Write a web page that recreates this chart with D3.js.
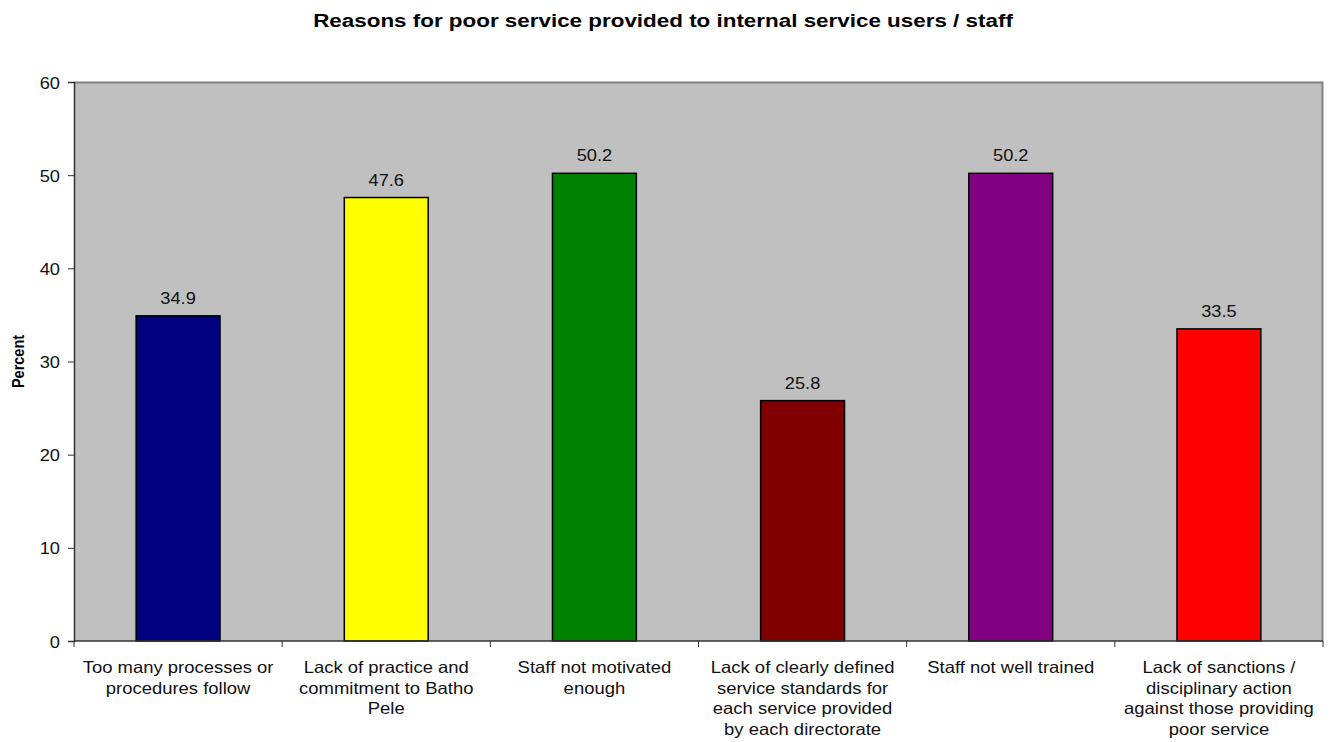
<!DOCTYPE html>
<html>
<head>
<meta charset="utf-8">
<script src="https://cdn.jsdelivr.net/npm/d3@7"></script>
<style>
  html, body { margin: 0; padding: 0; background: #fff; }
  svg { display: block; font-family: Arial, "Liberation Sans", sans-serif; }
</style>
</head>
<body>
<svg id="chart" width="1330" height="742"></svg>
<script>
// Reasons for poor service — percent of respondents per reason
const categories = [
  "Too many processes or procedures follow",
  "Lack of practice and commitment to Batho Pele",
  "Staff not motivated enough",
  "Lack of clearly defined service standards for each service provided by each directorate",
  "Staff not well trained",
  "Lack of sanctions / disciplinary action against those providing poor service"
];
const categoryLines = [
  ["Too many processes or", "procedures follow"],
  ["Lack of practice and", "commitment to Batho", "Pele"],
  ["Staff not motivated", "enough"],
  ["Lack of clearly defined", "service standards for", "each service provided", "by each directorate"],
  ["Staff not well trained"],
  ["Lack of sanctions /", "disciplinary action", "against those providing", "poor service"]
];
const values = [34.9, 47.6, 50.2, 25.8, 50.2, 33.5];
const barColors = ["#000080", "#FFFF00", "#008000", "#800000", "#800080", "#FF0000"];
const yTicks = [0, 10, 20, 30, 40, 50, 60];

const svg = d3.select("#chart");
const margin = { left: 74, right: 7, top: 82, bottom: 101 };
const W = 1330, H = 742;
const plotW = W - margin.left - margin.right;
const plotH = H - margin.top - margin.bottom;

// text in this chart is set slightly wide
const WIDE = 1.14;

const g = svg.append("g").attr("transform", `translate(${margin.left},${margin.top})`);

const x = d3.scaleBand().domain(categories).range([0, plotW])
  .paddingInner(0.597).paddingOuter(0.2985);
const xCat = d3.scaleBand().domain(categories).range([0, plotW]).padding(0);
const y = d3.scaleLinear().domain([0, 60]).range([plotH, 0]);

// plot background
g.append("rect")
  .attr("x", 0).attr("y", 0).attr("width", plotW).attr("height", plotH)
  .attr("fill", "#C0C0C0");
// top and right border
g.append("path")
  .attr("d", `M0,0.5H${plotW - 0.5}V${plotH}`)
  .attr("fill", "none").attr("stroke", "#808080").attr("stroke-width", 2);

// bars
g.selectAll("rect.bar").data(values).join("rect")
  .attr("class", "bar")
  .attr("x", (d, i) => x(categories[i]))
  .attr("y", d => y(d))
  .attr("width", x.bandwidth())
  .attr("height", d => y(0) - y(d))
  .attr("fill", (d, i) => barColors[i])
  .attr("stroke", "#000").attr("stroke-width", 1.5);

// value labels
g.selectAll("text.val").data(values).join("text")
  .attr("class", "val")
  .attr("transform", (d, i) =>
    `translate(${x(categories[i]) + x.bandwidth() / 2},${y(d) - 12}) scale(${WIDE},1)`)
  .attr("text-anchor", "middle")
  .attr("font-size", 16)
  .attr("fill", "#111")
  .text(d => d.toFixed(1));

// y axis
const yAxis = g.append("g")
  .call(d3.axisLeft(y).tickValues(yTicks).tickSize(6).tickPadding(0).tickFormat(d3.format("d")));
yAxis.select(".domain").attr("stroke", "#333").attr("stroke-width", 1.5);
yAxis.selectAll(".tick line").attr("stroke", "#333");
yAxis.selectAll(".tick text")
  .attr("x", null).attr("dy", null)
  .attr("transform", `translate(-14,6) scale(${WIDE},1)`)
  .attr("font-size", 16).attr("fill", "#111")
  .attr("font-family", "Arial, 'Liberation Sans', sans-serif");

// x axis: ticks at category boundaries
const xAxisG = g.append("g").attr("transform", `translate(0,${plotH})`);
xAxisG.append("line").attr("x1", 0).attr("x2", plotW).attr("y1", 0).attr("y2", 0)
  .attr("stroke", "#333").attr("stroke-width", 1.5);
const bounds = categories.map(c => xCat(c)).concat([plotW]);
xAxisG.selectAll("line.tk").data(bounds).join("line")
  .attr("class", "tk")
  .attr("x1", d => d).attr("x2", d => d)
  .attr("y1", 0).attr("y2", 6)
  .attr("stroke", "#333");

// category labels
const labels = xAxisG.selectAll("text.cat").data(categoryLines).join("text")
  .attr("class", "cat")
  .attr("text-anchor", "middle")
  .attr("font-size", 16.5)
  .attr("fill", "#111")
  .attr("transform", (d, i) =>
    `translate(${xCat(categories[i]) + xCat.bandwidth() / 2},0) scale(1.12,1)`);
labels.selectAll("tspan").data(d => d).join("tspan")
  .attr("x", 0)
  .attr("y", (d, j) => 32 + j * 20.6)
  .text(d => d);

// axis title
svg.append("text")
  .attr("transform", `translate(24,${margin.top + plotH / 2}) scale(${WIDE},1) rotate(-90)`)
  .attr("text-anchor", "middle")
  .attr("font-size", 14.5).attr("font-weight", "bold")
  .text("Percent");

// chart title
svg.append("text")
  .attr("transform", `translate(663,27) scale(1.18,1)`)
  .attr("text-anchor", "middle")
  .attr("font-size", 19).attr("font-weight", "bold")
  .text("Reasons for poor service provided to internal service users / staff");
</script>
</body>
</html>
